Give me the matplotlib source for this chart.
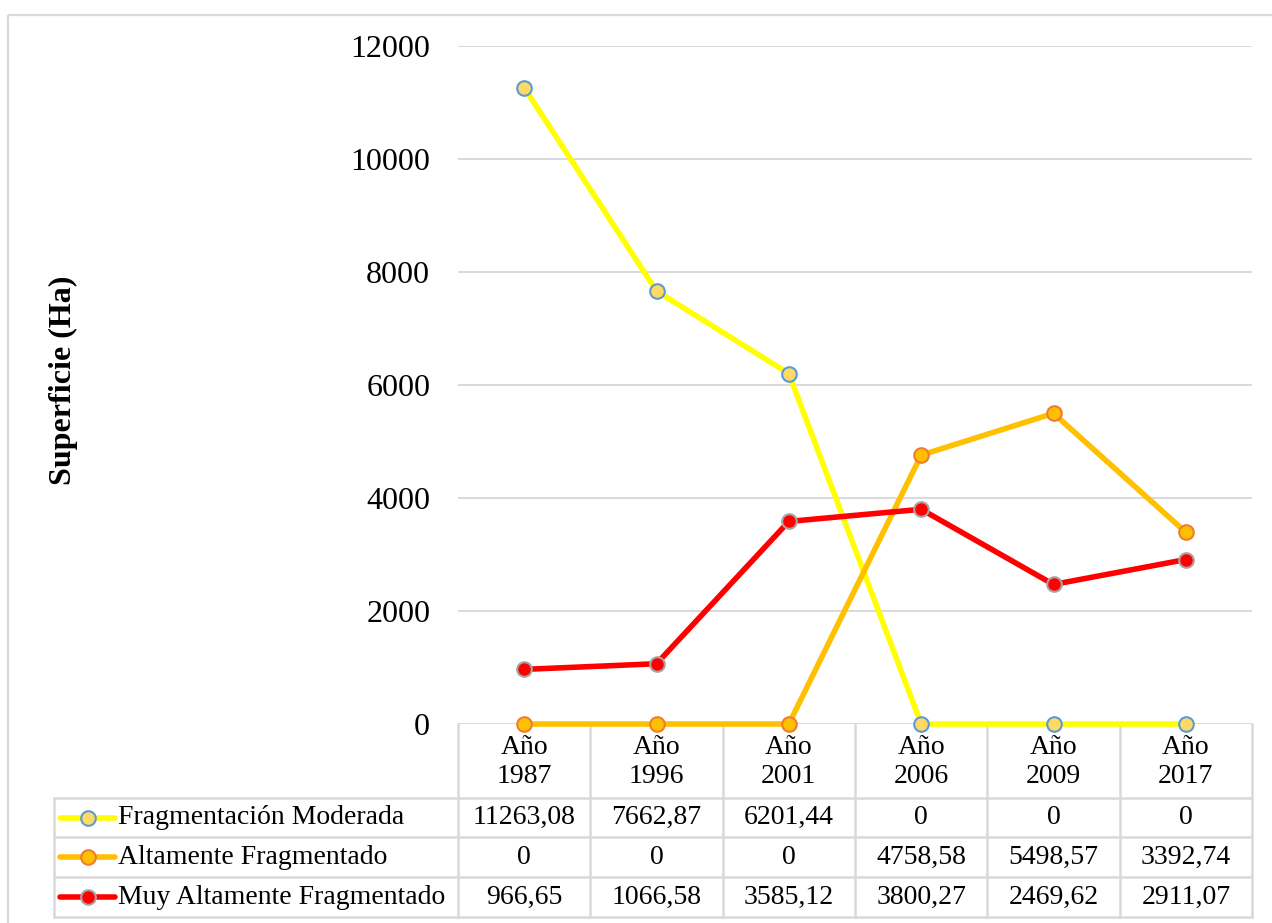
import matplotlib
matplotlib.use("Agg")
import matplotlib.pyplot as plt
from matplotlib.transforms import blended_transform_factory
from matplotlib.lines import Line2D
from matplotlib.patches import Rectangle

plt.rcParams['font.family'] = ['Liberation Serif', 'DejaVu Serif']

# --- data -------------------------------------------------------------
years = ["Año\n1987", "Año\n1996", "Año\n2001", "Año\n2006", "Año\n2009", "Año\n2017"]
series_names = ["Fragmentación Moderada", "Altamente Fragmentado", "Muy Altamente Fragmentado"]
moderada = [11263.08, 7662.87, 6201.44, 0, 0, 0]
altamente = [0, 0, 0, 4758.58, 5498.57, 3392.74]
muy_altamente = [966.65, 1066.58, 3585.12, 3800.27, 2469.62, 2911.07]
y_ticks = [0, 2000, 4000, 6000, 8000, 10000, 12000]

# --- styling ----------------------------------------------------------
styles = [
    dict(color="#FFFF00", mfc="#FFD966", mec="#5B9BD5"),
    dict(color="#FFC000", mfc="#FFC000", mec="#ED7D31"),
    dict(color="#FF0000", mfc="#FF0000", mec="#A5A5A5"),
]
grid_c = "#D9D9D9"
W, H = 1272, 923
LW, MS, MEW = 4.0, 10.5, 1.5
FS_TAB = 20

fig = plt.figure(figsize=(W / 100, H / 100), dpi=100)

# overlay in pixel coordinates for the frame and the data table
over = fig.add_axes([0, 0, 1, 1], zorder=0)
over.set_xlim(0, W)
over.set_ylim(H, 0)
over.axis("off")
over.add_patch(Rectangle((8, 15), W + 20, H, fill=False, ec=grid_c, lw=1.6))

left, right, top, bottom = 458, 1252, 46, 724
ax = fig.add_axes([left / W, 1 - bottom / H, (right - left) / W, (bottom - top) / H], zorder=2)
ax.patch.set_alpha(0)

xs = list(range(len(years)))
for vals, st in zip([moderada, altamente, muy_altamente], styles):
    ax.plot(xs, vals, color=st["color"], lw=LW, marker="o", ms=MS,
            mfc=st["mfc"], mec=st["mec"], mew=MEW, solid_capstyle="round",
            clip_on=False)

ax.set_xlim(-0.5, len(years) - 0.5)
ax.set_ylim(0, 12000)
ax.set_yticks(y_ticks)
ax.set_yticklabels([str(v) for v in y_ticks])
ax.set_xticks([])
ax.tick_params(axis="y", length=0, pad=20, labelsize=23)
for s in ax.spines.values():
    s.set_visible(False)
ax.grid(axis="y", color=grid_c, lw=1.4)
ax.set_axisbelow(True)

over.text(63, 380, "Superficie (Ha)", rotation=90, ha="center", va="center",
          fontsize=23, fontweight="bold")

# --- data table under the plot ---------------------------------------
tr = blended_transform_factory(ax.transData, over.transData)
row_lines = [798, 837, 877, 917]
tw = 1.8
# horizontal rules
for y in row_lines:
    over.plot([54, right], [y, y], color=grid_c, lw=tw, solid_capstyle="butt")
over.plot([54, 54], [row_lines[0], row_lines[-1]], color=grid_c, lw=tw)
# column rules
for b in [i - 0.5 for i in range(len(years) + 1)]:
    over.plot([b, b], [bottom, row_lines[-1]], color=grid_c, lw=tw, transform=tr)

# header labels
for i, lab in enumerate(years):
    over.text(i, 762, lab, transform=tr, ha="center", va="center",
              fontsize=FS_TAB, linespacing=1.22)

# rows with legend keys and values
for r, (name, vals, st) in enumerate(zip(series_names,
                                          [moderada, altamente, muy_altamente],
                                          styles)):
    yc = (row_lines[r] + row_lines[r + 1]) / 2
    over.add_line(Line2D([60, 115], [yc, yc], color=st["color"], lw=LW,
                         solid_capstyle="round"))
    over.add_line(Line2D([88], [yc], marker="o", ms=MS, mfc=st["mfc"],
                         mec=st["mec"], mew=MEW, lw=0))
    over.text(118, yc, name, ha="left", va="center", fontsize=FS_TAB)
    for i, v in enumerate(vals):
        txt = "0" if v == 0 else f"{v:.2f}".replace(".", ",")
        over.text(i, yc, txt, transform=tr, ha="center", va="center", fontsize=FS_TAB)

fig.savefig("out.png", dpi=100)
